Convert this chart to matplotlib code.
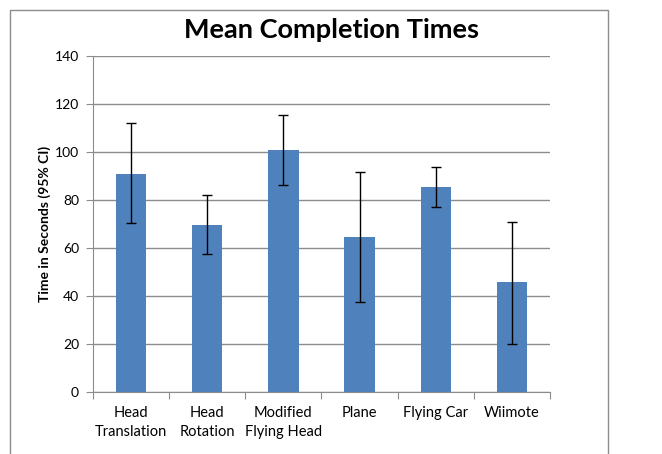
import matplotlib.pyplot as plt
from matplotlib.patches import Rectangle

plt.rcParams['font.family'] = ['Lato', 'DejaVu Sans']

categories = ['Head\nTranslation', 'Head\nRotation', 'Modified\nFlying Head', 'Plane', 'Flying Car', 'Wiimote']
means = [90.8, 69.7, 101.0, 64.5, 85.3, 45.8]
ci_low = [70.4, 57.6, 86.1, 37.4, 77.1, 20.1]
ci_high = [112.1, 82.1, 115.4, 91.7, 93.8, 70.8]

err = [[m - lo for m, lo in zip(means, ci_low)],
       [hi - m for m, hi in zip(means, ci_high)]]

fig = plt.figure(figsize=(6.62, 4.54), dpi=100)
fig.patches.append(Rectangle((10 / 662, -0.1), 598 / 662, 1.1 - 10 / 454, transform=fig.transFigure,
                             fill=False, edgecolor='#8c8c8c', linewidth=1))
ax = fig.add_axes([93 / 662, (454 - 392) / 454, 457 / 662, 336 / 454])

x = range(len(categories))
ax.bar(x, means, width=0.4, color='#4f81bd', zorder=2)
ax.errorbar(x, means, yerr=err, fmt='none', ecolor='black', elinewidth=1,
            capsize=3.5, capthick=1, zorder=3)

ax.set_xlim(-0.5, len(categories) - 0.5)
ax.set_ylim(0, 140)
ax.set_yticks(range(0, 141, 20))
ax.yaxis.grid(True, color='#8c8c8c', linewidth=1, zorder=0)
ax.set_axisbelow(True)

ax.set_xticks([i - 0.5 for i in range(len(categories) + 1)], minor=False)
ax.set_xticklabels([])
ax.set_xticks(list(x), minor=True)
ax.set_xticklabels(categories, minor=True, fontsize=10.5, linespacing=1.45)
ax.tick_params(axis='x', which='minor', length=0, pad=10)
ax.tick_params(axis='x', which='major', length=5, color='#8c8c8c', direction='out')
ax.tick_params(axis='y', length=5, color='#8c8c8c', direction='out', labelsize=10, pad=5)

for s in ['top', 'right']:
    ax.spines[s].set_visible(False)
for s in ['left', 'bottom']:
    ax.spines[s].set_color('#8c8c8c')

ax.set_ylabel('Time in Seconds (95% CI)', fontsize=10, fontweight='bold', labelpad=3)
fig.text(331 / 662, 1 - 30 / 454, 'Mean Completion Times', ha='center', va='center',
         fontsize=19.5, fontweight='bold')

plt.savefig('out.png', dpi=100)
